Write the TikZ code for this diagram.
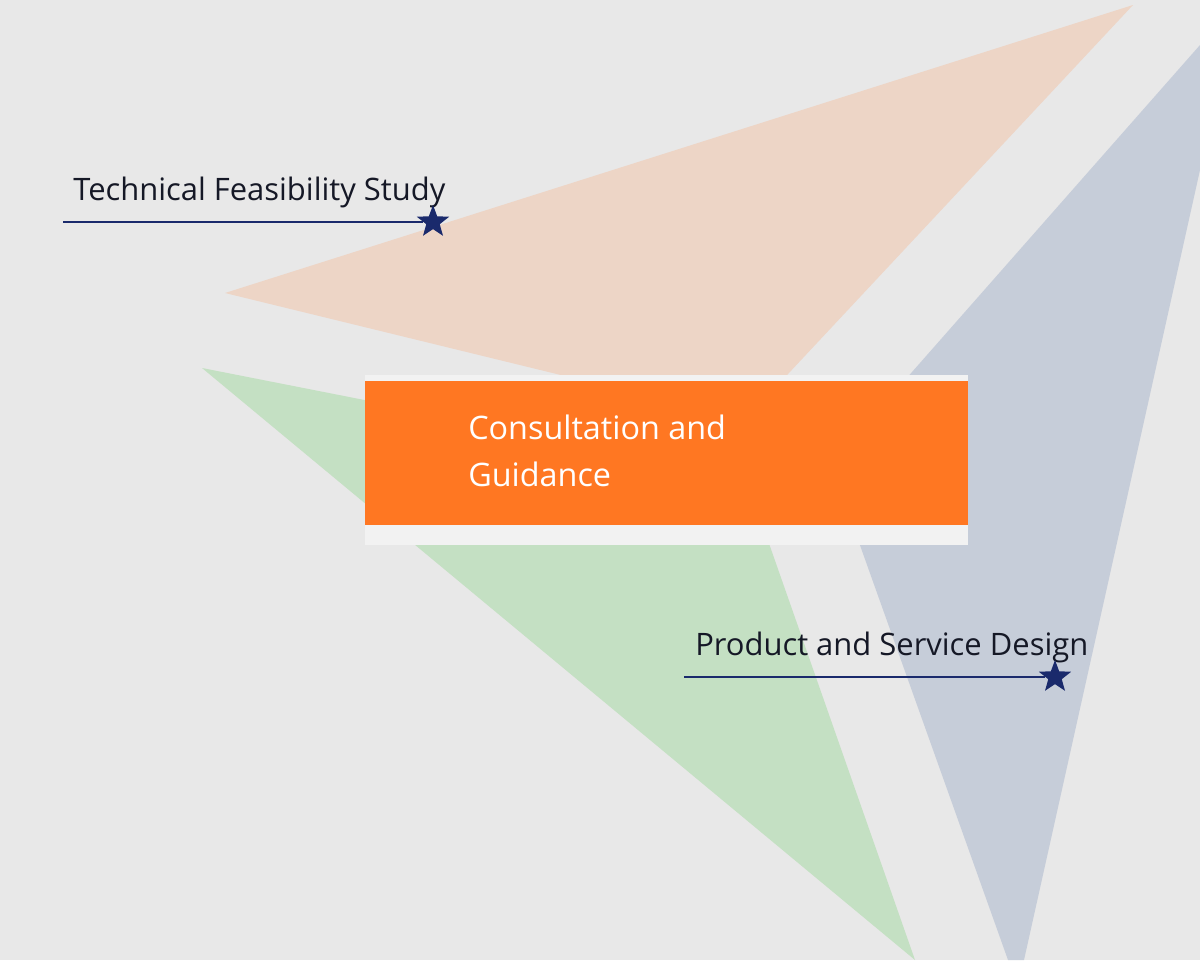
\documentclass[tikz,border=0pt]{standalone}
\usepackage{fontspec}
\setmainfont{Open Sans}
\newfontfamily\labelfont{Open Sans}
\usetikzlibrary{shapes.geometric,positioning}
\definecolor{bgray}{HTML}{E8E8E8}
\definecolor{peach}{HTML}{EDD5C6}
\definecolor{mint}{HTML}{C4E0C3}
\definecolor{slate}{HTML}{C6CDD9}
\definecolor{boxorange}{HTML}{FF7722}
\definecolor{stripgray}{HTML}{F2F2F2}
\definecolor{navy}{HTML}{1A2A6C}
\definecolor{inkdark}{HTML}{151826}
\begin{document}
\begin{tikzpicture}[x=0.025cm, y=-0.025cm,
  mark star/.style={star, star points=5, star point ratio=2.4, fill=navy,
    inner sep=0pt, minimum size=34*0.025cm},
  leader/.style={navy, line width=1.3pt},
  tag/.style={font=\labelfont\fontsize{22}{26}\selectfont, text=inkdark,
    anchor=base west, inner sep=0pt}
]
% ── Background and triangles ─────────────────────
\fill[bgray] (0,0) rectangle (1200,960);
\fill[peach] (225,293) -- (1133,5) -- (745,420) -- cycle;
\fill[mint] (202,368) -- (745,475) -- (915,960) -- cycle;
\fill[slate] (1200,45) -- (831,464) -- (1008,960) -- (1024,960) -- (1200,170) -- cycle;
% ── Centre box ───────────────────────────────────
\fill[stripgray] (365,375) rectangle (968,545);
\fill[boxorange] (365,381) rectangle (968,525);
\node[anchor=west, text=white, align=left, inner sep=0pt,
  font=\fontsize{23}{33}\selectfont] (guide) at (468,451)
  {Consultation and\\Guidance};
% ── Labels with leaders ──────────────────────────
\node[tag] (tfs) at (73,200) {Technical Feasibility Study};
\node[mark star] (s1) at (433,222) {};
\coordinate (l1) at (63,222);
\draw[leader] (l1) -- (s1);
\node[tag] (psd) at (695,655) {Product and Service Design};
\node[mark star] (s2) at (1055,677) {};
\coordinate (l2) at (684,677);
\draw[leader] (l2) -- (s2);
\end{tikzpicture}
\end{document}
